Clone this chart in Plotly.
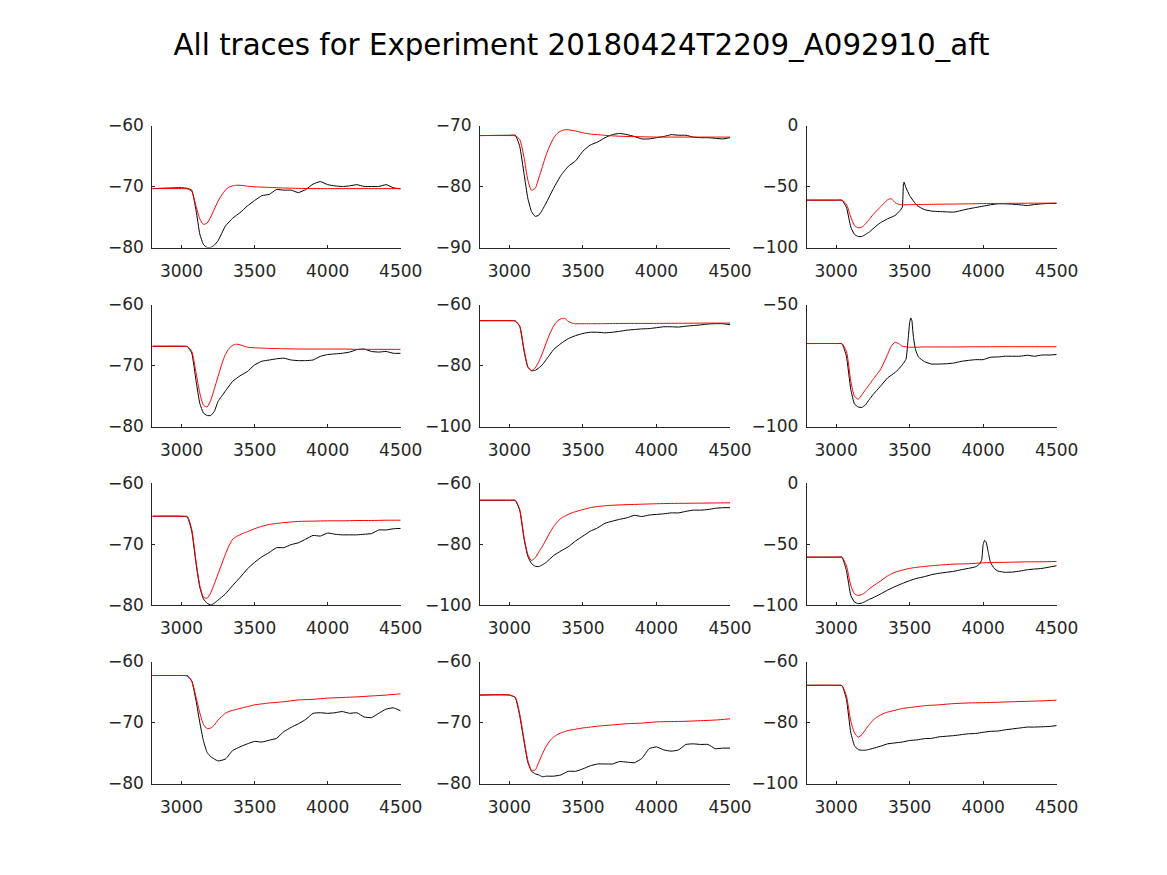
import plotly.graph_objects as go

TITLE = "All traces for Experiment 20180424T2209_A092910_aft"

x_ticks = [3000, 3500, 4000, 4500]
x_range = [2800, 4500]

# model (red) time base
t_fit = [2800, 3000, 3040, 3070, 3100, 3125, 3150, 3175, 3200, 3225, 3250, 3275, 3300, 3325,
         3350, 3375, 3400, 3425, 3450, 3500, 3550, 3600, 3700, 3800, 3900, 4000, 4100, 4200,
         4300, 4400, 4500]

# recorded (black) time base
t_rec = [2800, 3000, 3040, 3070, 3100, 3125, 3150, 3175, 3200, 3225, 3250, 3300, 3350, 3400,
         3450, 3500, 3550, 3600, 3650, 3700, 3750, 3800, 3850, 3900, 3950, 4000, 4050, 4100,
         4150, 4200, 4250, 4300, 4350, 4400, 4450, 4500]
t_rec3 = [2800, 3000, 3040, 3070, 3100, 3125, 3150, 3175, 3200, 3225, 3250, 3300, 3350, 3400,
          3435, 3450, 3458, 3462, 3475, 3500, 3550, 3600, 3650, 3700, 3750, 3800, 3850, 3900,
          3950, 4000, 4050, 4100, 4150, 4200, 4250, 4300, 4350, 4400, 4450, 4500]
t_rec6 = [2800, 3000, 3040, 3070, 3100, 3125, 3150, 3175, 3200, 3225, 3250, 3300, 3350, 3400,
          3425, 3450, 3475, 3490, 3500, 3508, 3515, 3525, 3540, 3560, 3600, 3650, 3700, 3750,
          3800, 3850, 3900, 3950, 4000, 4050, 4100, 4150, 4200, 4250, 4300, 4350, 4400, 4450, 4500]
t_rec9 = [2800, 3000, 3040, 3070, 3100, 3125, 3150, 3175, 3200, 3225, 3250, 3300, 3350, 3400,
          3450, 3500, 3550, 3600, 3650, 3700, 3750, 3800, 3850, 3900, 3950, 3975, 3990, 4000,
          4010, 4020, 4035, 4050, 4075, 4100, 4150, 4200, 4250, 4300, 4350, 4400, 4450, 4500]

fit_1 = [-70.35, -70.35, -70.4, -70.8, -73.3, -75.3, -76.2, -76.0, -75.0, -73.7, -72.4, -71.4,
         -70.6, -70.1, -69.9, -69.8, -69.8, -69.85, -69.95, -70.05, -70.1, -70.15, -70.25, -70.3,
         -70.35, -70.35, -70.35, -70.35, -70.35, -70.35, -70.35]
fit_2 = [-71.65, -71.65, -71.7, -72.3, -75.3, -78.9, -80.6, -80.3, -78.6, -76.7, -74.8, -73.3,
         -72.1, -71.3, -70.9, -70.7, -70.7, -70.8, -70.9, -71.2, -71.4, -71.5, -71.7, -71.8,
         -71.85, -71.9, -71.9, -71.9, -71.9, -71.9, -71.9]
fit_3 = [-61.2, -61.2, -61.3, -64.5, -75.1, -82.0, -83.9, -83.3, -80.6, -77.0, -73.2, -70.0,
         -66.9, -63.8, -60.9, -60.0, -63.1, -64.5, -65.0, -64.9, -64.8, -64.7, -64.5, -64.4,
         -64.2, -64.0, -63.9, -63.8, -63.7, -63.65, -63.6]
fit_4 = [-66.85, -66.85, -66.9, -67.7, -71.3, -74.5, -76.5, -76.8, -75.7, -73.8, -71.8, -69.8,
         -68.2, -67.2, -66.7, -66.5, -66.6, -66.8, -67.0, -67.1, -67.15, -67.2, -67.25, -67.3,
         -67.3, -67.3, -67.3, -67.35, -67.35, -67.35, -67.35]
fit_5 = [-65.3, -65.3, -65.4, -67.1, -74.8, -80.3, -81.7, -80.8, -78.7, -75.9, -72.6, -69.6,
         -67.1, -65.5, -64.7, -64.5, -65.5, -66.1, -66.3, -66.3, -66.3, -66.3, -66.25, -66.2,
         -66.2, -66.2, -66.15, -66.15, -66.1, -66.1, -66.1]
fit_6 = [-66.0, -66.0, -66.1, -69.2, -81.5, -87.6, -88.8, -87.0, -84.9, -82.9, -80.8, -78.8,
         -76.8, -73.8, -70.5, -67.1, -65.5, -66.0, -67.1, -67.5, -67.5, -67.4, -67.4, -67.4,
         -67.35, -67.35, -67.3, -67.3, -67.3, -67.3, -67.3]
fit_7 = [-65.45, -65.45, -65.5, -67.6, -73.0, -76.8, -78.7, -78.9, -78.0, -76.5, -74.9, -73.3,
         -71.7, -70.3, -69.2, -68.8, -68.5, -68.2, -68.0, -67.5, -67.1, -66.8, -66.5, -66.3,
         -66.25, -66.2, -66.2, -66.15, -66.15, -66.1, -66.1]
fit_8 = [-65.65, -65.65, -65.7, -68.7, -77.9, -83.4, -85.4, -84.5, -82.6, -80.7, -78.5, -76.3,
         -74.3, -72.8, -71.6, -70.9, -70.3, -69.8, -69.4, -68.7, -68.1, -67.7, -67.3, -67.1,
         -66.95, -66.8, -66.7, -66.65, -66.6, -66.55, -66.5]
fit_9 = [-60.8, -60.8, -60.9, -67.8, -84.1, -90.8, -92.2, -91.4, -89.5, -86.8, -84.6, -82.5,
         -80.5, -78.3, -76.2, -74.6, -73.2, -72.2, -71.4, -70.0, -69.1, -68.4, -67.3, -66.5,
         -66.2, -65.4, -65.1, -64.9, -64.6, -64.6, -64.3]
fit_10 = [-62.3, -62.3, -62.35, -63.2, -65.9, -68.4, -70.3, -71.0, -70.9, -70.4, -69.6, -69.0,
          -68.5, -68.2, -68.0, -67.85, -67.7, -67.55, -67.4, -67.1, -66.95, -66.8, -66.6, -66.3,
          -66.2, -66.0, -65.9, -65.8, -65.65, -65.5, -65.3]
fit_11 = [-65.5, -65.5, -65.9, -68.6, -72.9, -76.2, -77.8, -77.8, -76.5, -75.1, -73.9, -73.0,
          -72.4, -72.0, -71.7, -71.5, -71.3, -71.2, -71.1, -70.9, -70.75, -70.6, -70.4, -70.2,
          -70.1, -69.9, -69.85, -69.8, -69.7, -69.6, -69.4]
fit_12 = [-67.8, -67.8, -67.9, -71.3, -79.6, -83.4, -84.8, -84.0, -82.3, -80.7, -79.3, -78.3,
          -77.6, -77.0, -76.6, -76.3, -76.0, -75.7, -75.4, -75.1, -74.8, -74.5, -74.2, -73.8,
          -73.6, -73.5, -73.35, -73.2, -73.05, -72.9, -72.7]

rec_1 = [-70.35, -70.2, -70.3, -70.6, -74.0, -77.8, -79.5, -80.0, -80.0, -79.6, -78.9, -76.5,
         -75.2, -74.3, -73.2, -72.3, -71.5, -71.3, -70.5, -70.6, -70.6, -71.0, -70.5, -69.6,
         -69.2, -69.7, -69.9, -70.0, -69.9, -69.7, -70.0, -70.0, -70.0, -69.7, -70.2, -70.4]
rec_2 = [-71.65, -71.6, -71.6, -73.4, -78.0, -81.9, -84.1, -84.9, -84.7, -83.8, -82.7, -80.3,
         -78.2, -76.7, -75.8, -74.2, -73.2, -72.7, -72.0, -71.5, -71.3, -71.5, -71.8, -72.2,
         -72.2, -72.0, -71.8, -71.5, -71.6, -71.6, -71.9, -72.0, -72.0, -72.1, -72.2, -72.0]
rec_3 = [-61.2, -61.2, -61.3, -67.0, -83.3, -89.3, -91.0, -91.0, -89.3, -87.4, -84.7, -79.8,
         -76.5, -73.8, -69.7, -67.0, -47.8, -46.4, -51.0, -57.4, -65.6, -68.9, -70.2, -70.5,
         -70.8, -71.0, -69.7, -68.3, -67.2, -66.1, -65.0, -64.2, -64.2, -64.5, -65.0, -65.6,
         -64.8, -64.2, -63.9, -63.9]
rec_4 = [-66.85, -66.85, -66.9, -67.95, -72.6, -76.2, -77.8, -78.2, -78.2, -77.5, -75.9, -74.2,
         -72.6, -71.7, -71.0, -69.9, -69.3, -69.1, -68.9, -68.8, -69.1, -69.2, -69.2, -69.1,
         -68.5, -68.2, -68.1, -68.0, -67.8, -67.4, -67.3, -67.7, -67.8, -67.7, -68.0, -68.0]
rec_5 = [-65.3, -65.3, -65.4, -67.1, -75.4, -80.5, -81.7, -81.6, -80.8, -79.7, -78.1, -74.8,
         -72.8, -71.2, -70.2, -69.5, -69.1, -69.1, -69.3, -69.1, -68.8, -68.4, -68.2, -68.0,
         -67.9, -67.6, -67.3, -67.3, -67.4, -67.1, -66.9, -66.7, -66.4, -66.3, -66.3, -66.6]
rec_6 = [-66.0, -66.0, -66.1, -71.2, -84.9, -90.8, -92.0, -92.2, -91.1, -89.0, -87.0, -83.6,
         -80.1, -77.9, -76.5, -74.7, -72.5, -64.0, -57.5, -55.5, -56.5, -63.0, -68.5, -71.5,
         -73.4, -74.4, -74.4, -74.3, -74.0, -73.3, -72.9, -72.6, -72.6, -71.6, -71.5, -71.2,
         -71.2, -71.2, -70.8, -71.2, -70.7, -70.7, -70.5]
rec_7 = [-65.45, -65.45, -65.6, -67.9, -73.3, -77.1, -79.0, -79.7, -80.0, -79.7, -79.2, -78.2,
         -76.8, -75.5, -74.1, -73.0, -72.1, -71.4, -70.6, -70.6, -70.1, -69.8, -69.2, -68.6,
         -68.7, -68.2, -68.4, -68.5, -68.5, -68.5, -68.4, -68.3, -67.7, -67.7, -67.5, -67.45]
rec_8 = [-65.65, -65.65, -65.7, -68.9, -78.5, -84.0, -86.4, -87.3, -87.4, -86.8, -86.0, -83.8,
         -82.3, -80.9, -79.0, -77.4, -75.8, -74.7, -73.2, -72.5, -71.9, -71.4, -70.6, -71.0,
         -70.5, -70.3, -70.1, -69.8, -69.8, -69.3, -68.9, -68.9, -68.7, -68.3, -68.1, -68.1]
rec_9 = [-60.8, -60.8, -60.9, -71.8, -92.2, -97.6, -98.9, -98.4, -97.0, -95.4, -94.1, -91.1,
         -87.8, -84.9, -82.4, -80.0, -78.1, -76.8, -75.1, -74.0, -73.2, -72.4, -71.1, -70.0,
         -68.6, -66.5, -63.0, -50.3, -47.0, -48.4, -57.0, -65.1, -70.0, -72.2, -73.2, -73.0,
         -72.2, -71.1, -70.5, -70.0, -68.9, -67.8]
rec_10 = [-62.3, -62.3, -62.35, -63.2, -66.5, -70.0, -73.0, -74.9, -75.6, -76.0, -76.3, -76.0,
          -74.6, -74.0, -73.5, -73.1, -73.2, -72.9, -72.6, -71.5, -70.8, -70.2, -69.5, -68.5,
          -68.4, -68.5, -68.4, -68.2, -68.5, -68.4, -69.1, -69.2, -68.5, -67.8, -67.6, -68.1]
rec_11 = [-65.5, -65.5, -65.9, -68.9, -73.2, -76.5, -78.0, -78.4, -78.6, -78.9, -78.8, -78.8,
          -78.6, -78.0, -78.0, -77.6, -77.1, -76.8, -76.8, -76.8, -76.4, -76.5, -76.6, -75.9,
          -74.3, -74.0, -74.5, -74.7, -74.5, -73.6, -73.5, -73.6, -73.6, -74.3, -74.2, -74.2]
rec_12 = [-67.8, -67.8, -67.9, -72.4, -83.4, -87.6, -88.9, -89.1, -89.1, -88.8, -88.5, -87.8,
          -87.0, -86.7, -86.4, -85.9, -85.7, -85.3, -85.2, -84.7, -84.5, -84.3, -84.0, -83.7,
          -83.6, -83.2, -82.9, -82.8, -82.4, -82.1, -81.8, -81.5, -81.5, -81.4, -81.3, -81.0]

y_ranges = [[-80, -60], [-90, -70], [-100, 0],
            [-80, -60], [-100, -60], [-100, -50],
            [-80, -60], [-100, -60], [-100, 0],
            [-80, -60], [-80, -60], [-100, -60]]
y_ticks = [[-80, -70, -60], [-90, -80, -70], [-100, -50, 0],
           [-80, -70, -60], [-100, -80, -60], [-100, -50],
           [-80, -70, -60], [-100, -80, -60], [-100, -50, 0],
           [-80, -70, -60], [-80, -70, -60], [-100, -80, -60]]

rec_times = [t_rec, t_rec, t_rec3, t_rec, t_rec, t_rec6, t_rec, t_rec, t_rec9, t_rec, t_rec, t_rec]
recs = [rec_1, rec_2, rec_3, rec_4, rec_5, rec_6, rec_7, rec_8, rec_9, rec_10, rec_11, rec_12]
fits = [fit_1, fit_2, fit_3, fit_4, fit_5, fit_6, fit_7, fit_8, fit_9, fit_10, fit_11, fit_12]

W, H = 1167, 875
OFF = 8  # page body margin shifts the figure by this much
col_px = [(152.3, 400.7), (480.0, 730.0), (806.7, 1056.7)]
row_px = [(125.5, 247.5), (304.5, 426.5), (483.0, 605.0), (661.5, 783.5)]
AX = "#262626"
FONT = "DejaVu Sans"


def label(v):
    return str(v).replace("-", "\u2212")


fig = go.Figure()
for i in range(12):
    r, c = divmod(i, 3)
    n = "" if i == 0 else str(i + 1)
    fig.add_trace(go.Scatter(x=rec_times[i], y=recs[i], mode="lines",
                             line=dict(color="black", width=1, shape="spline", smoothing=0.4),
                             xaxis="x" + n, yaxis="y" + n, showlegend=False, hoverinfo="skip"))
    fig.add_trace(go.Scatter(x=t_fit, y=fits[i], mode="lines",
                             line=dict(color="red", width=1, shape="spline", smoothing=0.6),
                             xaxis="x" + n, yaxis="y" + n, showlegend=False, hoverinfo="skip"))
    x0, x1 = col_px[c]
    y0, y1 = row_px[r]
    fig.layout["xaxis" + n] = dict(
        domain=[(x0 - OFF) / W, (x1 - OFF) / W], anchor="y" + n, range=x_range,
        tickvals=x_ticks, ticktext=[label(v) for v in x_ticks],
        showline=True, linecolor=AX, linewidth=1, ticks="inside", ticklen=3,
        tickcolor=AX, showgrid=False, zeroline=False, automargin=False,
        ticklabelstandoff=8,
        tickfont=dict(family=FONT, size=17, color=AX))
    fig.layout["yaxis" + n] = dict(
        domain=[1 - (y1 - OFF) / H, 1 - (y0 - OFF) / H], anchor="x" + n, range=y_ranges[i],
        tickvals=y_ticks[i], ticktext=[label(v) for v in y_ticks[i]],
        showline=True, linecolor=AX, linewidth=1, ticks="inside", ticklen=3,
        tickcolor=AX, showgrid=False, zeroline=False, automargin=False,
        ticklabelstandoff=4,
        tickfont=dict(family=FONT, size=17, color=AX))

fig.update_layout(
    width=W, height=H, autosize=False,
    margin=dict(l=0, r=0, t=0, b=0, pad=0, autoexpand=False),
    paper_bgcolor="white", plot_bgcolor="white",
    title=dict(text=TITLE, x=(581.5 - OFF) / W, xanchor="center", y=1 - (45 - OFF) / H,
               yanchor="middle", automargin=False,
               font=dict(family=FONT, size=29.3, color="black")),
)

fig.write_html("out.html")
